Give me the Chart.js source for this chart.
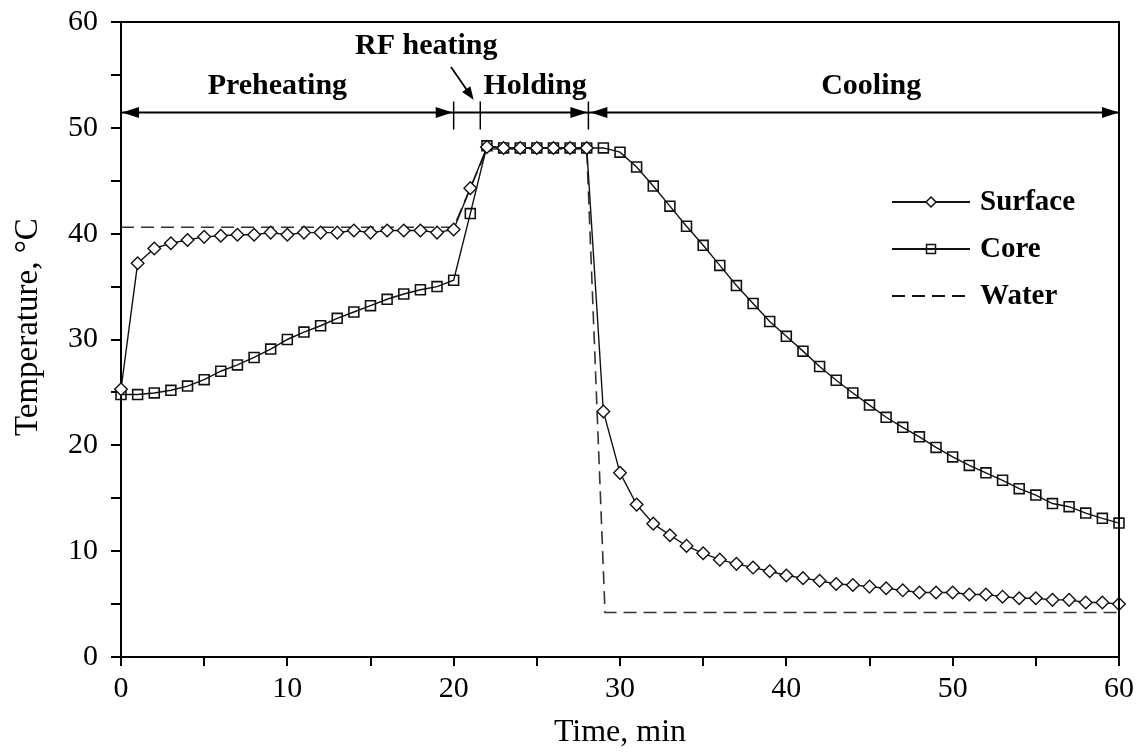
<!DOCTYPE html>
<html>
<head>
<meta charset="utf-8">
<title>Temperature history during RF treatment</title>
<script src="https://cdn.jsdelivr.net/npm/chart.js@4.4.1/dist/chart.umd.min.js"></script>
<style>
  html, body { margin: 0; padding: 0; background: #ffffff; }
  #wrap { width: 1141px; height: 753px; }
</style>
</head>
<body>
<div id="wrap"><canvas id="chart" width="1141" height="753"></canvas></div>
<script>
// Sampling times (min) for the surface and core probes
const minutes = [
  0, 1, 2, 3, 4, 5, 6, 7, 8, 9, 10, 11, 12, 13, 14, 15, 16, 17, 18, 19, 20,
  21, 22, 23, 24, 25, 26, 27, 28, 29, 30, 31, 32, 33, 34, 35, 36, 37, 38, 39, 40,
  41, 42, 43, 44, 45, 46, 47, 48, 49, 50, 51, 52, 53, 54, 55, 56, 57, 58, 59, 60
];

// Surface temperature (°C)
const surfaceTemp = [
  25.3, 37.2, 38.6, 39.1, 39.4, 39.7, 39.8, 39.9, 39.9, 40.1, 39.9,
  40.1, 40.1, 40.1, 40.3, 40.1, 40.3, 40.3, 40.3, 40.1, 40.4,
  44.3, 48.2, 48.1, 48.1, 48.1, 48.1, 48.1, 48.1, 23.2, 17.4,
  14.4, 12.6, 11.5, 10.5, 9.8, 9.2, 8.8, 8.45, 8.1, 7.7,
  7.45, 7.2, 6.9, 6.8, 6.65, 6.5, 6.3, 6.1, 6.1, 6.1,
  5.9, 5.9, 5.7, 5.55, 5.55, 5.4, 5.4, 5.15, 5.15, 5.0
];

// Core temperature (°C)
const coreTemp = [
  24.8, 24.8, 24.95, 25.2, 25.6, 26.2, 27.0, 27.6, 28.3, 29.1, 30.0,
  30.7, 31.3, 32.0, 32.6, 33.2, 33.8, 34.3, 34.7, 35.0, 35.6,
  41.9, 48.3, 48.1, 48.1, 48.1, 48.1, 48.1, 48.1, 48.1, 47.7,
  46.3, 44.5, 42.6, 40.7, 38.9, 37.0, 35.1, 33.4, 31.7, 30.3,
  28.9, 27.45, 26.15, 24.95, 23.8, 22.65, 21.7, 20.8, 19.8, 18.9,
  18.1, 17.4, 16.7, 15.9, 15.3, 14.5, 14.2, 13.6, 13.1, 12.65
];

// Water bath temperature profile (°C)
const waterTime = [0, 20, 22, 28, 29.1, 60];
const waterTemp = [40.6, 40.6, 48, 48, 4.2, 4.2];

// Process phases: names and boundaries (min)
const phaseNames = ['Preheating', 'RF heating', 'Holding', 'Cooling'];
const phaseEdges = [0, 20, 21.6, 28.1, 60];

// Axis ticks
const axisMax = 60;
const tickStep = 5;
const labelStep = 10;

const seriesNames = ['Surface', 'Core', 'Water'];

const SERIF = "'Liberation Serif', 'Times New Roman', serif";
const INK = '#111111';

const toPoints = (xs, ys) => xs.map((x, i) => ({ x: x, y: ys[i] }));

// Border on the top and right sides of the plotting area
const frame = {
  id: 'frame',
  afterDraw(chart) {
    const { ctx, chartArea: a } = chart;
    ctx.save();
    ctx.strokeStyle = '#000';
    ctx.lineWidth = 2;
    ctx.beginPath();
    ctx.moveTo(a.left, a.top);
    ctx.lineTo(a.right, a.top);
    ctx.lineTo(a.right, a.bottom);
    ctx.stroke();
    ctx.restore();
  }
};

function arrowHead(ctx, tipX, tipY, dirX, dirY, len, half) {
  const n = Math.hypot(dirX, dirY);
  const ux = dirX / n, uy = dirY / n;
  const bx = tipX - ux * len, by = tipY - uy * len;
  ctx.beginPath();
  ctx.moveTo(tipX, tipY);
  ctx.lineTo(bx - uy * half, by + ux * half);
  ctx.lineTo(bx + uy * half, by - ux * half);
  ctx.closePath();
  ctx.fill();
}

// Phase bar with arrows and labels above the curves
const phases = {
  id: 'phases',
  afterDraw(chart) {
    const { ctx } = chart;
    const xs = chart.scales.x, ys = chart.scales.y;
    const X = v => xs.getPixelForValue(v);
    const Y = v => ys.getPixelForValue(v);
    const barY = Y(51.45);
    ctx.save();
    ctx.strokeStyle = '#000';
    ctx.fillStyle = '#000';
    ctx.lineWidth = 2;

    // main bar
    ctx.beginPath();
    ctx.moveTo(X(phaseEdges[0]), barY);
    ctx.lineTo(X(phaseEdges[4]), barY);
    ctx.stroke();

    // boundary ticks
    ctx.lineWidth = 1.5;
    [phaseEdges[1], phaseEdges[2], phaseEdges[3]].forEach(t => {
      ctx.beginPath();
      ctx.moveTo(X(t), barY - 11);
      ctx.lineTo(X(t), barY + 17);
      ctx.stroke();
    });

    // arrowheads
    const L = 17, H = 5.5;
    arrowHead(ctx, X(phaseEdges[0]) + 1, barY, -1, 0, L, H);
    arrowHead(ctx, X(phaseEdges[1]) - 1, barY, 1, 0, L, H);
    arrowHead(ctx, X(phaseEdges[3]) - 1, barY, 1, 0, L, H);
    arrowHead(ctx, X(phaseEdges[3]) + 2, barY, -1, 0, L, H);
    arrowHead(ctx, X(phaseEdges[4]), barY, 1, 0, L, H);

    // pointer to the short RF heating interval
    const p0x = X(19.84), p0y = Y(55.75);
    const p1x = X(21.2), p1y = Y(52.65);
    ctx.lineWidth = 1.8;
    ctx.beginPath();
    ctx.moveTo(p0x, p0y);
    ctx.lineTo(p1x - (p1x - p0x) * 0.3, p1y - (p1y - p0y) * 0.3);
    ctx.stroke();
    arrowHead(ctx, p1x, p1y, p1x - p0x, p1y - p0y, 13, 5);

    // labels
    ctx.font = 'bold 30px ' + SERIF;
    ctx.textAlign = 'center';
    ctx.textBaseline = 'alphabetic';
    const labelAt = [
      { t: 9.4, v: 53.2 },
      { t: 18.35, v: 57.0 },
      { t: 24.9, v: 53.2 },
      { t: 45.1, v: 53.2 }
    ];
    phaseNames.forEach((name, i) => {
      ctx.fillText(name, X(labelAt[i].t), Y(labelAt[i].v));
    });
    ctx.restore();
  }
};

// Legend drawn inside the plot area, one row per series
const seriesKey = {
  id: 'seriesKey',
  afterDraw(chart) {
    const { ctx } = chart;
    const x0 = 892, x1 = 970, tx = 980;
    const rows = [202, 249, 296];
    ctx.save();
    chart.data.datasets.forEach((ds, i) => {
      const y = rows[i];
      ctx.strokeStyle = INK;
      ctx.lineWidth = 2;
      ctx.setLineDash(ds.borderDash || []);
      ctx.beginPath();
      ctx.moveTo(x0, y);
      ctx.lineTo(x1, y);
      ctx.stroke();
      ctx.setLineDash([]);
      const cx = (x0 + x1) / 2;
      ctx.lineWidth = 1.5;
      if (ds.pointStyle === 'rectRot') {
        const r = 5;
        ctx.beginPath();
        ctx.moveTo(cx, y - r); ctx.lineTo(cx + r, y); ctx.lineTo(cx, y + r); ctx.lineTo(cx - r, y);
        ctx.closePath();
        ctx.fillStyle = '#fff';
        ctx.fill();
        ctx.stroke();
      } else if (ds.pointStyle === 'rect' && ds.pointRadius > 0) {
        const s = 4.5;
        ctx.beginPath();
        ctx.rect(cx - s, y - s, 2 * s, 2 * s);
        ctx.stroke();
      }
      ctx.fillStyle = '#000';
      ctx.font = 'bold 29px ' + SERIF;
      ctx.textAlign = 'left';
      ctx.textBaseline = 'middle';
      ctx.fillText(ds.label, tx, y + 1);
    });
    ctx.restore();
  }
};

const tickLabel = v => (v % labelStep === 0 ? String(v) : '');

new Chart(document.getElementById('chart'), {
  type: 'line',
  data: {
    datasets: [
      {
        label: seriesNames[0],
        data: toPoints(minutes, surfaceTemp),
        borderColor: INK,
        borderWidth: 1.4,
        tension: 0,
        pointStyle: 'rectRot',
        pointRadius: 6.3,
        pointBorderWidth: 1.4,
        pointBackgroundColor: '#ffffff',
        pointBorderColor: INK,
        clip: false
      },
      {
        label: seriesNames[1],
        data: toPoints(minutes, coreTemp),
        borderColor: INK,
        borderWidth: 1.4,
        tension: 0,
        pointStyle: 'rect',
        pointRadius: 7,
        pointBorderWidth: 1.6,
        pointBackgroundColor: 'rgba(0,0,0,0)',
        pointBorderColor: INK,
        clip: false
      },
      {
        label: seriesNames[2],
        data: toPoints(waterTime, waterTemp),
        borderColor: '#333333',
        borderWidth: 1.6,
        borderDash: [13, 7],
        tension: 0,
        pointRadius: 0,
        pointStyle: false,
        clip: false
      }
    ]
  },
  options: {
    responsive: false,
    devicePixelRatio: 1,
    animation: false,
    events: [],
    layout: { padding: { top: 22, right: 22, left: 0, bottom: 0 } },
    plugins: {
      legend: { display: false },
      tooltip: { enabled: false }
    },
    scales: {
      x: {
        type: 'linear',
        min: 0,
        max: axisMax,
        afterFit(scale) {
          scale.height = 96;
          scale.paddingLeft = 0;
          scale.paddingRight = 0;
        },
        ticks: {
          stepSize: tickStep,
          autoSkip: false,
          maxRotation: 0,
          padding: 8,
          color: '#000',
          font: { family: SERIF, size: 30, lineHeight: 1 },
          callback: tickLabel
        },
        grid: {
          drawOnChartArea: false,
          drawTicks: true,
          tickLength: 9,
          color: '#000',
          lineWidth: 2
        },
        border: { display: true, color: '#000', width: 2 },
        title: {
          display: true,
          text: 'Time, min',
          color: '#000',
          font: { family: SERIF, size: 32 },
          padding: { top: 0, bottom: 1 }
        }
      },
      y: {
        type: 'linear',
        min: 0,
        max: axisMax,
        afterFit(scale) {
          scale.width = 121;
          scale.paddingTop = 0;
          scale.paddingBottom = 0;
        },
        ticks: {
          stepSize: tickStep,
          autoSkip: false,
          padding: 13,
          color: '#000',
          font: { family: SERIF, size: 30, lineHeight: 1 },
          callback: tickLabel
        },
        grid: {
          drawOnChartArea: false,
          drawTicks: true,
          tickLength: 10,
          color: '#000',
          lineWidth: 2
        },
        border: { display: true, color: '#000', width: 2 },
        title: {
          display: true,
          text: '   Temperature, °C',
          color: '#000',
          font: { family: SERIF, size: 33 },
          padding: { top: 9, bottom: 0 }
        }
      }
    }
  },
  plugins: [frame, phases, seriesKey]
});
</script>
</body>
</html>
